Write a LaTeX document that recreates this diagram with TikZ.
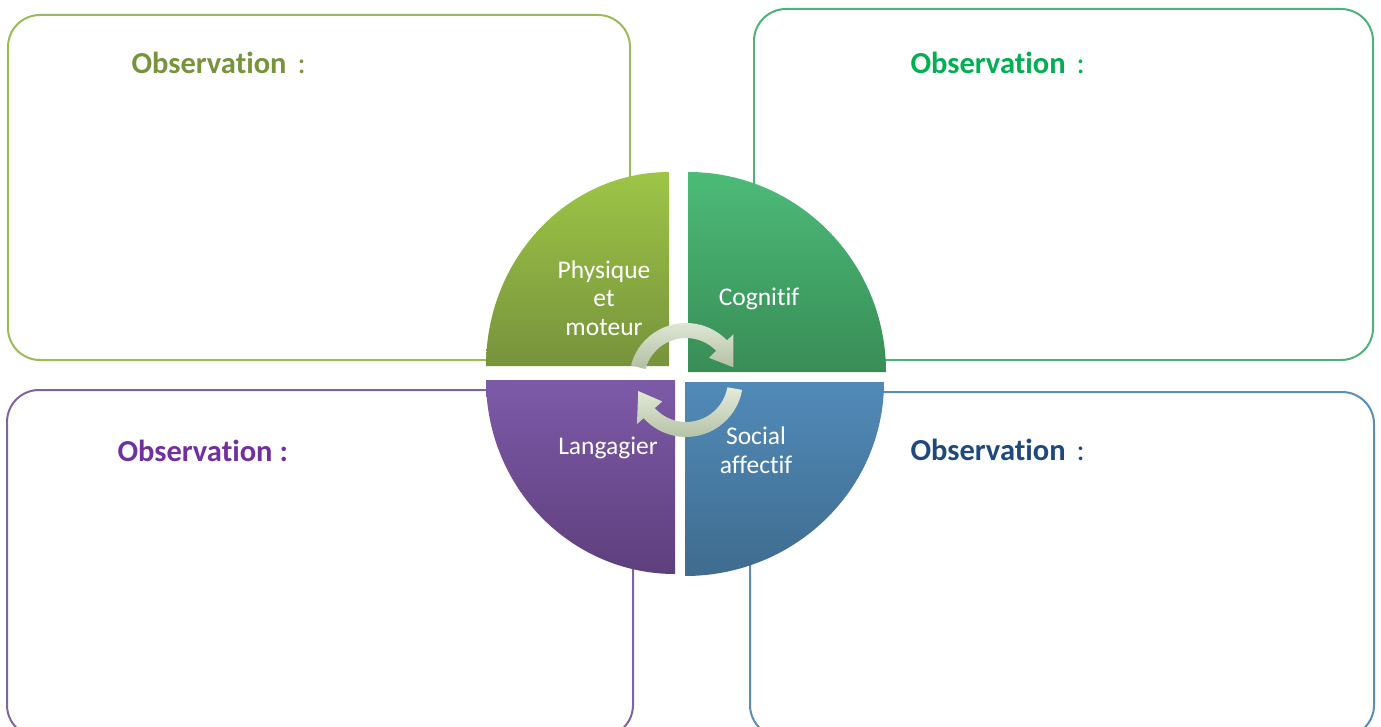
\documentclass[tikz,border=0pt]{standalone}
\usepackage{fontspec}
\setmainfont{Carlito}[Ligatures=NoCommon]

\definecolor{oliveline}{HTML}{9BBB59}
\definecolor{greenline}{HTML}{50B078}
\definecolor{purpleline}{HTML}{8064A2}
\definecolor{blueline}{HTML}{5B8DB5}
\definecolor{olivetext}{HTML}{77933C}
\definecolor{greentext}{HTML}{00B050}
\definecolor{purpletext}{HTML}{7030A0}
\definecolor{bluetext}{HTML}{1F497D}
\definecolor{arrowtop}{HTML}{E4EBDA}
\definecolor{arrowbot}{HTML}{B2BFA3}

\begin{document}
\begin{tikzpicture}[x=1pt,y=-1pt,
  obsbox/.style={line width=2pt,rounded corners=32pt},
  obstitle/.style={anchor=west,font=\fontsize{30.5}{36}\selectfont\bfseries},
  part/.style={text=white,align=center,font=\fontsize{25.5}{28.5}\selectfont},
  turn/.style={top color=arrowtop,bottom color=arrowbot,draw=none}]

\useasboundingbox (0,0) rectangle (1381,727);

% the four boxes
\begin{scope}
\clip (0,0) rectangle (1381,727);
\draw[obsbox,draw=oliveline] (8,15) rectangle (630,360);
\draw[obsbox,draw=greenline] (754,9) rectangle (1373,360);
\draw[obsbox,draw=purpleline] (7,390) rectangle (633,737);
\draw[obsbox,draw=blueline] (750,392) rectangle (1374,737);
\end{scope}

\node[obstitle,text=olivetext] (obsphys) at (128,63) {Observation\hspace{11pt}\textmd{:}};
\node[obstitle,text=greentext] (obscogn) at (907,63) {Observation\hspace{11pt}\textmd{:}};
\node[obstitle,text=purpletext] (obslang) at (114,451) {Observation :};
\node[obstitle,text=bluetext] (obssoc) at (907,450) {Observation\hspace{11pt}\textmd{:}};

% the wheel
\shade[top color={rgb,255:red,158;green,197;blue,70},bottom color={rgb,255:red,119;green,147;blue,60}] (669,366) -- (486,366)
  arc[start angle=180,end angle=270,x radius=183,y radius=194] -- cycle;
\shade[top color={rgb,255:red,76;green,187;blue,120},bottom color={rgb,255:red,56;green,141;blue,86}] (688,372) -- (688,172)
  arc[start angle=270,end angle=360,x radius=198,y radius=200] -- cycle;
\shade[top color={rgb,255:red,125;green,90;blue,168},bottom color={rgb,255:red,94;green,63;blue,125}] (675,380) -- (675,574)
  arc[start angle=90,end angle=180,x radius=189,y radius=194] -- cycle;
\shade[top color={rgb,255:red,81;green,138;blue,184},bottom color={rgb,255:red,63;green,108;blue,143}] (685,382) -- (884,382)
  arc[start angle=0,end angle=90,x radius=199,y radius=194] -- cycle;

\begin{scope}[shift={(686,380)}]
\shade[turn] (195:57) arc[start angle=195,end angle=316,radius=57] -- (316:66) -- (345:49)
  -- (316:32) -- (316:42) arc[start angle=316,end angle=195,radius=42] -- cycle;
\shade[turn] (10:57) arc[start angle=10,end angle=138,radius=57] -- (138:66) -- (167:49)
  -- (138:32) -- (138:42) arc[start angle=138,end angle=10,radius=42] -- cycle;
\end{scope}

\node[part] (phys) at (604,298) {Physique\\et\\moteur};
\node[part] (cogn) at (759,299) {Cognitif};
\node[part] (lang) at (608,448) {Langagier};
\node[part] (soc) at (756,450) {Social\\affectif};
\end{tikzpicture}
\end{document}
